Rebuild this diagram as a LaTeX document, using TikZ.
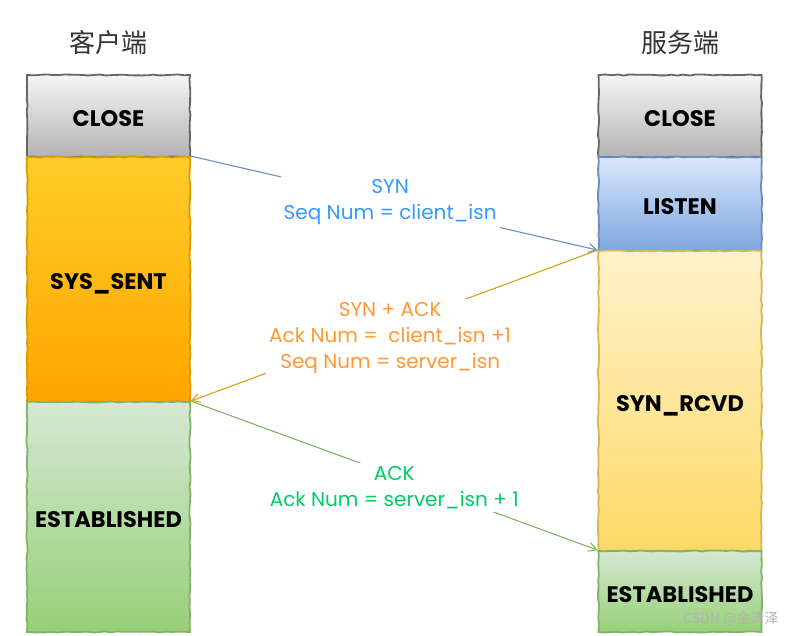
\documentclass[tikz,border=0pt]{standalone}
\usepackage{fontspec}
\setmainfont{Poppins}
\newfontfamily\cjk{Noto Sans CJK SC}
\usetikzlibrary{arrows.meta,decorations.pathmorphing}
\definecolor{closeT}{HTML}{F5F5F5}\definecolor{closeB}{HTML}{B3B3B3}\definecolor{closeD}{HTML}{666666}
\definecolor{sentT}{HTML}{FFCD28}\definecolor{sentB}{HTML}{FFA500}\definecolor{sentD}{HTML}{D79B00}
\definecolor{listT}{HTML}{DAE8FC}\definecolor{listB}{HTML}{7EA6E0}\definecolor{listD}{HTML}{6C8EBF}
\definecolor{rcvdT}{HTML}{FFF2CC}\definecolor{rcvdB}{HTML}{FFD966}\definecolor{rcvdD}{HTML}{D6B656}
\definecolor{estT}{HTML}{D5E8D4}\definecolor{estB}{HTML}{97D077}\definecolor{estD}{HTML}{82B366}
\definecolor{synTxt}{HTML}{3399FF}\definecolor{saTxt}{HTML}{FF9933}\definecolor{ackTxt}{HTML}{00CC66}
\definecolor{saLine}{HTML}{D6A21A}
\begin{document}
\begin{tikzpicture}[x=1pt,y=-1pt,
  state/.style={rectangle,inner sep=0pt,minimum width=163pt,line width=1.8pt,
    font=\fontsize{22.5}{26}\selectfont\bfseries,text height=21pt,text depth=0pt,
    decorate,decoration={random steps,segment length=6pt,amplitude=0.6pt}},
  gray box/.style={state,draw=closeD,top color=closeT,bottom color=closeB},
  orange box/.style={state,draw=sentD,top color=sentT,bottom color=sentB},
  blue box/.style={state,draw=listD,top color=listT,bottom color=listB},
  yellow box/.style={state,draw=rcvdD,top color=rcvdT,bottom color=rcvdB},
  green box/.style={state,draw=estD,top color=estT,bottom color=estB},
  msg/.style={fill=white,inner sep=3pt,align=center,font=\fontsize{20}{26}\selectfont},
  conn/.style={line width=1.1pt,-{Straight Barb[length=8pt,width=9pt]}},
  title/.style={font=\cjk\fontsize{26}{30}\selectfont,text=black!80}]
\useasboundingbox (0,0) rectangle (796,636);
\node[title] (tl) at (108,43) {客户端};
\node[title] (tr) at (680,43) {服务端};
% client column
\node[gray box,minimum height=82pt] (lclose) at (108.5,116) {CLOSE};
\node[orange box,minimum height=245pt] (lsent) at (108.5,279.5) {SYS\_SENT};
\node[green box,minimum height=230pt] (lest) at (108.5,517) {ESTABLISHED};
% server column
\node[gray box,minimum height=82pt] (rclose) at (680,116) {CLOSE};
\node[blue box,minimum height=94pt] (rlisten) at (680,204) {LISTEN};
\node[yellow box,minimum height=300pt] (rrcvd) at (680,401) {SYN\_RCVD};
\node[green box,minimum height=81pt] (rest) at (680,591.5) {ESTABLISHED};
% messages
\draw[conn,draw=listD] (lsent.north east) -- node[msg,text=synTxt,pos=0.49]{SYN\\Seq Num = client\_isn} (rrcvd.north west);
\draw[conn,draw=saLine] (rrcvd.north west) -- node[msg,text=saTxt,pos=0.51,yshift=-11pt]{SYN + ACK\\Ack Num = \ client\_isn +1\\Seq Num = server\_isn} (lest.north west -| lsent.east);
\draw[conn,draw=estD] (lest.north east) -- node[msg,text=ackTxt,pos=0.5,yshift=-12pt]{ACK\\Ack Num = server\_isn + 1} (rest.north west);
\node[font=\cjk\fontsize{14}{16}\selectfont,text=black!30] (wm) at (731,619) {CSDN @金清泽};
\end{tikzpicture}
\end{document}
